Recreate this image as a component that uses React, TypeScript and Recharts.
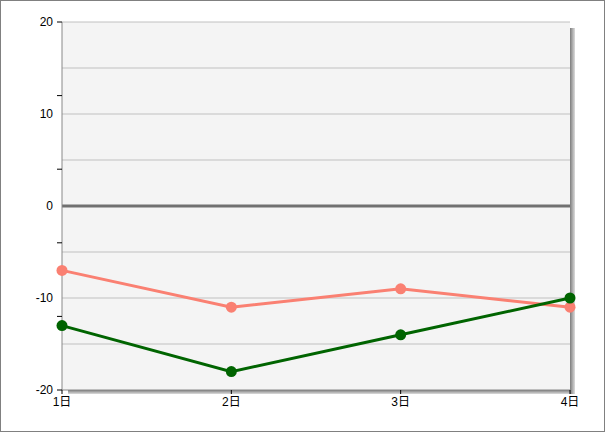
import { LineChart, Line, XAxis, YAxis, CartesianGrid, ReferenceLine, ReferenceArea } from "recharts";

const days = ["1日", "2日", "3日", "4日"];
const salmonValues = [-7, -11, -9, -11];
const greenValues = [-13, -18, -14, -10];
const yLabels = [20, 10, 0, -10, -20];
const yTickMarks = [20, 12, 4, -4, -12, -20];
const gridValues = [20, 15, 10, 5, -5, -10, -15];

const data = days.map((day, i) => ({ day, salmon: salmonValues[i], green: greenValues[i] }));

const FONT = "'Liberation Sans', 'Noto Sans CJK JP', sans-serif";

function YTick(props: any) {
  const { x, y, payload } = props;
  const v = payload.value;
  return (
    <g>
      {yTickMarks.includes(v) && <line x1={x} x2={x + 5} y1={y} y2={y} stroke="#000" strokeWidth={1} />}
      {yLabels.includes(v) && (
        <text x={x - 4} y={y} dy={4} textAnchor="end" fontSize={12} fontFamily={FONT} fill="#000">
          {v}
        </text>
      )}
    </g>
  );
}

function ShadowShape(props: any) {
  const { x, y, width, height } = props;
  return (
    <g>
      <defs>
        <linearGradient id="shR" x1="0" y1="0" x2="1" y2="0">
          <stop offset="0%" stopColor="#7c7c7c" />
          <stop offset="100%" stopColor="#dcdcdc" />
        </linearGradient>
        <linearGradient id="shB" x1="0" y1="0" x2="0" y2="1">
          <stop offset="0%" stopColor="#7c7c7c" />
          <stop offset="100%" stopColor="#dcdcdc" />
        </linearGradient>
      </defs>
      <rect x={x + width} y={y + 6} width={5} height={height - 2} fill="url(#shR)" />
      <rect x={x + 6} y={y + height} width={width - 6} height={4} fill="url(#shB)" />
    </g>
  );
}

export default function App() {
  const allTicks = Array.from(new Set([...yLabels, ...yTickMarks])).sort((a, b) => b - a);
  return (
    <div
      style={{
        position: "absolute",
        left: 0,
        top: 0,
        width: 605,
        height: 432,
        border: "1px solid #808080",
        boxSizing: "border-box",
        background: "#fff",
      }}
    >
      <LineChart width={603} height={430} data={data} margin={{ top: 21, right: 34, bottom: 0, left: 0 }}>
        <CartesianGrid
          horizontal
          vertical={false}
          horizontalValues={gridValues}
          stroke="#c0c0c0"
          fill="#f4f4f4"
          fillOpacity={1}
        />
        <ReferenceArea x1="1日" x2="4日" y1={-20} y2={20} shape={ShadowShape} ifOverflow="visible" />
        <XAxis
          dataKey="day"
          height={41}
          stroke="#888"
          tickSize={4}
          tickMargin={3}
          tickLine={{ stroke: "#000" }}
          tick={{ fill: "#000", fontSize: 12, fontFamily: FONT }}
        />
        <YAxis
          width={61}
          domain={[-20, 20]}
          ticks={allTicks}
          interval={0}
          stroke="#888"
          tickLine={false}
          tickSize={5}
          tickMargin={0}
          tick={<YTick />}
        />
        <ReferenceLine y={0} stroke="#707070" strokeWidth={3} />
        <Line
          dataKey="salmon"
          stroke="#fa8072"
          strokeWidth={3}
          dot={{ r: 5.5, fill: "#fa8072", stroke: "#fa8072", strokeWidth: 0 }}
          isAnimationActive={false}
        />
        <Line
          dataKey="green"
          stroke="#006400"
          strokeWidth={3}
          dot={{ r: 5.5, fill: "#006400", stroke: "#006400", strokeWidth: 0 }}
          isAnimationActive={false}
        />
      </LineChart>
    </div>
  );
}
